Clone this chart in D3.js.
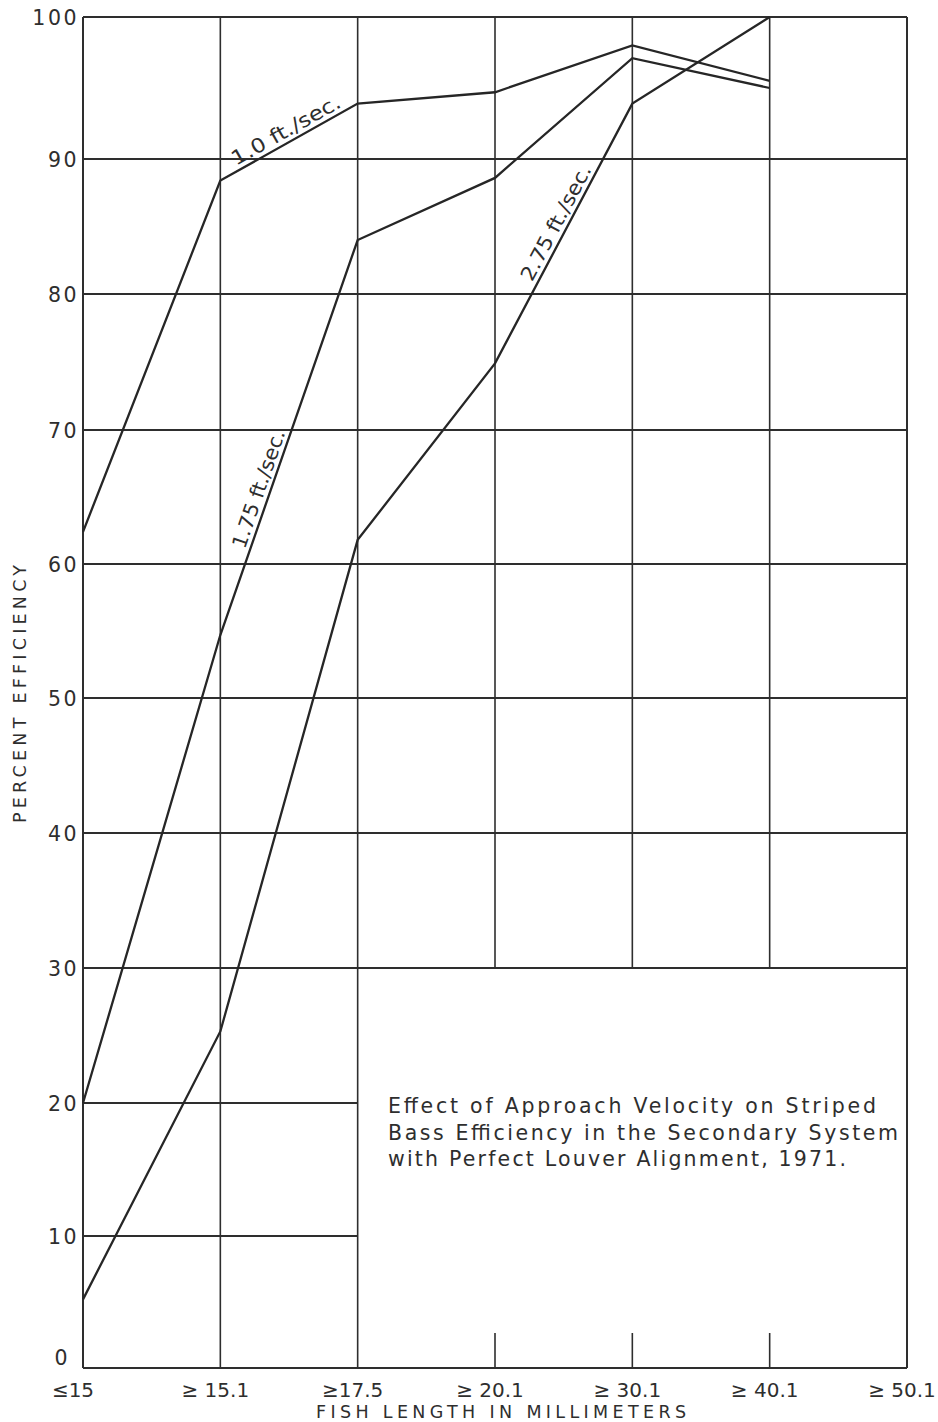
<!DOCTYPE html>
<html>
<head>
<meta charset="utf-8">
<script src="https://cdn.jsdelivr.net/npm/d3@7"></script>
<style>
  html, body { margin: 0; padding: 0; background: #ffffff; }
  svg { display: block; }
  text { font-family: "DejaVu Sans", "Liberation Sans", sans-serif; fill: #2e2e2e; }
</style>
</head>
<body>
<svg id="chart" width="938" height="1422"></svg>
<script>
// ---- data ----
const categories = ["≤15", "≥ 15.1", "≥17.5", "≥ 20.1", "≥ 30.1", "≥ 40.1", "≥ 50.1"];
const yTicks = [0, 10, 20, 30, 40, 50, 60, 70, 80, 90, 100];
const series1_0 = [62.4, 88.4, 93.9, 94.7, 98.0, 95.5];
const series1_75 = [20.0, 54.7, 84.0, 88.6, 97.1, 95.0];
const series2_75 = [5.2, 25.3, 61.8, 74.9, 93.9, 100.0];
const seriesNames = ["1.0 ft./sec.", "1.75 ft./sec.", "2.75 ft./sec."];
const noteLines = [
  "Effect of Approach Velocity on Striped",
  "Bass Efficiency in the Secondary System",
  "with Perfect Louver Alignment, 1971."
];
const xTitle = "FISH LENGTH IN MILLIMETERS";
const yTitle = "PERCENT EFFICIENCY";

// ---- layout ----
const svg = d3.select("#chart");
const left = 83, right = 907;
// hand-drawn grid: band heights are slightly uneven, so map each gridline
const yRange = [1368, 1236, 1103, 968, 833, 698, 564, 430, 294, 159, 17];
const x = d3.scalePoint().domain(categories).range([left, right]);
const y = d3.scaleLinear().domain(yTicks).range(yRange);

const ink = "#2e2e2e";
const g = svg.append("g");

// horizontal grid lines
yTicks.forEach(v => {
  if (v === 0 || v === 100) return;
  const x2 = v >= 30 ? right : x(categories[2]);
  g.append("line").attr("x1", left).attr("x2", x2)
    .attr("y1", y(v)).attr("y2", y(v))
    .attr("stroke", ink).attr("stroke-width", 2);
});
// vertical grid lines
categories.forEach((c, i) => {
  if (i === 0 || i === categories.length - 1) return;
  if (i <= 2) {
    g.append("line").attr("x1", x(c)).attr("x2", x(c))
      .attr("y1", y(100)).attr("y2", y(0))
      .attr("stroke", ink).attr("stroke-width", 1.6);
  } else {
    g.append("line").attr("x1", x(c)).attr("x2", x(c))
      .attr("y1", y(100)).attr("y2", y(30))
      .attr("stroke", ink).attr("stroke-width", 1.6);
    g.append("line").attr("x1", x(c)).attr("x2", x(c))
      .attr("y1", y(0) - 35).attr("y2", y(0))
      .attr("stroke", ink).attr("stroke-width", 1.6);
  }
});
// frame
g.append("line").attr("x1", left).attr("x2", right).attr("y1", y(100)).attr("y2", y(100))
  .attr("stroke", ink).attr("stroke-width", 2.2);
g.append("line").attr("x1", left).attr("x2", right).attr("y1", y(0)).attr("y2", y(0))
  .attr("stroke", ink).attr("stroke-width", 2.2);
g.append("line").attr("x1", left).attr("x2", left).attr("y1", y(100)).attr("y2", y(0))
  .attr("stroke", ink).attr("stroke-width", 2);
g.append("line").attr("x1", right).attr("x2", right).attr("y1", y(100)).attr("y2", y(0))
  .attr("stroke", ink).attr("stroke-width", 2);

// y tick labels
yTicks.forEach(v => {
  g.append("text")
    .attr("x", v === 0 ? 70 : 79)
    .attr("y", v === 0 ? y(v) - 3 : y(v) + 7.5)
    .attr("text-anchor", "end")
    .attr("font-size", 20.5)
    .attr("letter-spacing", 2.5)
    .text(String(v));
});
// x tick labels
categories.forEach((c, i) => {
  g.append("text")
    .attr("x", x(c) - (i === 0 ? 10 : 5))
    .attr("y", 1397)
    .attr("text-anchor", "middle")
    .attr("font-size", 20)
    .text(c);
});
// axis titles
g.append("text").attr("x", 501).attr("y", 1418)
  .attr("text-anchor", "middle").attr("font-size", 17.5)
  .attr("textLength", 370).attr("lengthAdjust", "spacing")
  .text(xTitle);
g.append("text")
  .attr("transform", "translate(26,694) rotate(-90)")
  .attr("text-anchor", "middle").attr("font-size", 17.5)
  .attr("textLength", 258).attr("lengthAdjust", "spacing")
  .text(yTitle);

// series lines
const allSeries = [series1_0, series1_75, series2_75];
const line = d3.line().x((d, i) => x(categories[i])).y(d => y(d));
allSeries.forEach(s => {
  g.append("path").attr("d", line(s))
    .attr("fill", "none").attr("stroke", "#262626")
    .attr("stroke-width", 2.3).attr("stroke-linejoin", "miter");
});

// labels along lines: [series index, segment start index, fraction along segment, length]
const labelSpecs = [[0, 1, 0.52, 122], [1, 1, 0.36, 124], [2, 3, 0.52, 128]];
labelSpecs.forEach(([si, seg, t, len]) => {
  const s = allSeries[si];
  const x0 = x(categories[seg]), y0 = y(s[seg]);
  const x1 = x(categories[seg + 1]), y1 = y(s[seg + 1]);
  const px = x0 + (x1 - x0) * t, py = y0 + (y1 - y0) * t;
  const ang = Math.atan2(y1 - y0, x1 - x0) * 180 / Math.PI;
  g.append("text")
    .attr("transform", `translate(${px},${py}) rotate(${ang})`)
    .attr("y", -5)
    .attr("text-anchor", "middle")
    .attr("font-size", 20)
    .attr("textLength", len).attr("lengthAdjust", "spacingAndGlyphs")
    .text(seriesNames[si]);
});

// note
const noteW = [488, 510, 458];
noteLines.forEach((t, i) => {
  g.append("text")
    .attr("x", 388).attr("y", 1113 + i * 26.5)
    .attr("font-size", 20.5)
    .attr("textLength", noteW[i]).attr("lengthAdjust", "spacing")
    .text(t);
});
</script>
</body>
</html>
